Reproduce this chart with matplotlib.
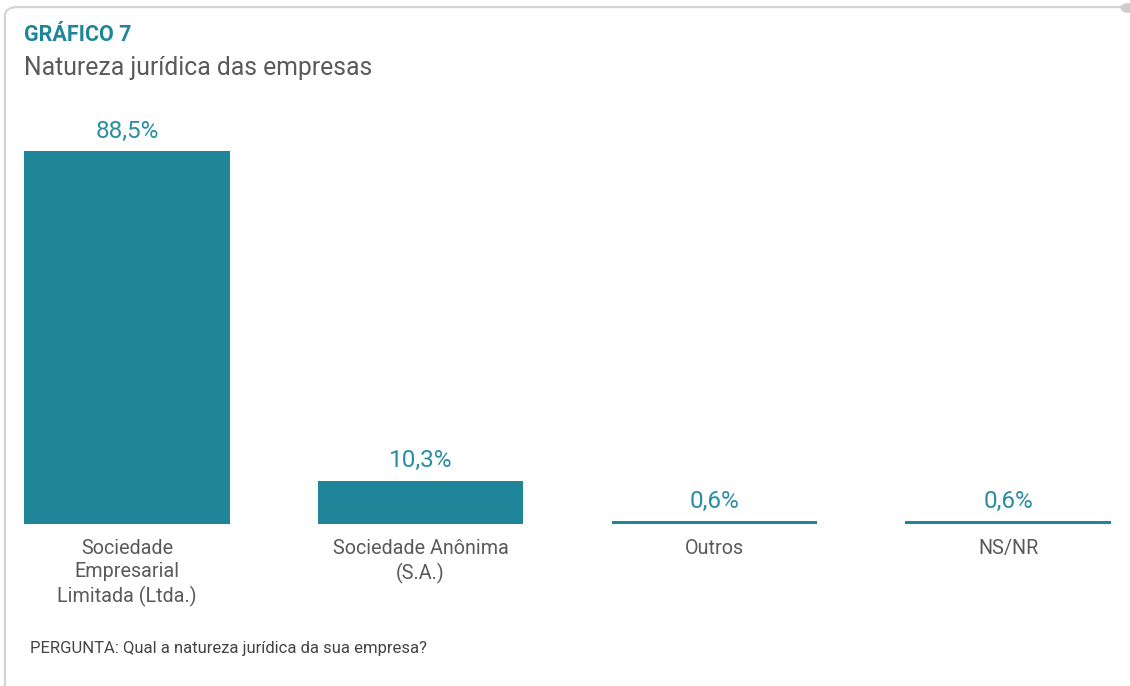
import matplotlib.pyplot as plt
from matplotlib.patches import FancyBboxPatch

categorias = ["Sociedade\nEmpresarial\nLimitada (Ltda.)", "Sociedade Anônima\n(S.A.)", "Outros", "NS/NR"]
valores = [88.5, 10.3, 0.6, 0.6]
rotulos = ["88,5%", "10,3%", "0,6%", "0,6%"]

TEAL = "#1f869a"
CINZA = "#5a5a5a"
FONTE = ["Roboto", "DejaVu Sans"]

plt.rcParams["font.family"] = FONTE

W, H = 1130, 686
fig = plt.figure(figsize=(W / 100, H / 100), dpi=100)

# moldura cinza com canto arredondado
moldura = FancyBboxPatch((5 / W, -0.2), 1.2, 1.2 - 7 / H,
                         boxstyle="round,pad=0,rounding_size=0.012",
                         transform=fig.transFigure, fill=False,
                         edgecolor="#d4d4d4", linewidth=1.6, zorder=0)
fig.patches.append(moldura)
fig.patches.append(plt.Circle((1128 / W, 1 - 8 / H), 0.006, transform=fig.transFigure,
                              color="#cccccc", zorder=1))

fig.text(24 / W, 1 - 35 / H, "GRÁFICO 7", fontsize=15.5, fontweight="bold",
         color=TEAL, va="center", ha="left")
fig.text(24 / W, 1 - 68 / H, "Natureza jurídica das empresas", fontsize=17.8,
         color=CINZA, va="center", ha="left")

ax = fig.add_axes([24 / W, 1 - 524 / H, (1111 - 24) / W, (524 - 151) / H])
x = range(len(valores))
ax.bar(x, valores, width=0.7, color=TEAL)
ax.set_xlim(-0.35, len(valores) - 1 + 0.35)
ax.set_ylim(0, 88.5)
ax.axis("off")

for i, (v, r) in enumerate(zip(valores, rotulos)):
    ax.annotate(r, (i, v), xytext=(0, 6), textcoords="offset points",
                ha="center", va="bottom", fontsize=17.5,
                color="#2a8ea2", annotation_clip=False)
    ax.annotate(categorias[i], (i, 0), xytext=(0, -11), textcoords="offset points",
                ha="center", va="top", fontsize=14.2, color=CINZA,
                linespacing=1.27, annotation_clip=False)

fig.text(30 / W, 1 - 649 / H, "PERGUNTA: Qual a natureza jurídica da sua empresa?",
         fontsize=12, color="#444444", va="center", ha="left")

fig.savefig("out.png", dpi=100)
